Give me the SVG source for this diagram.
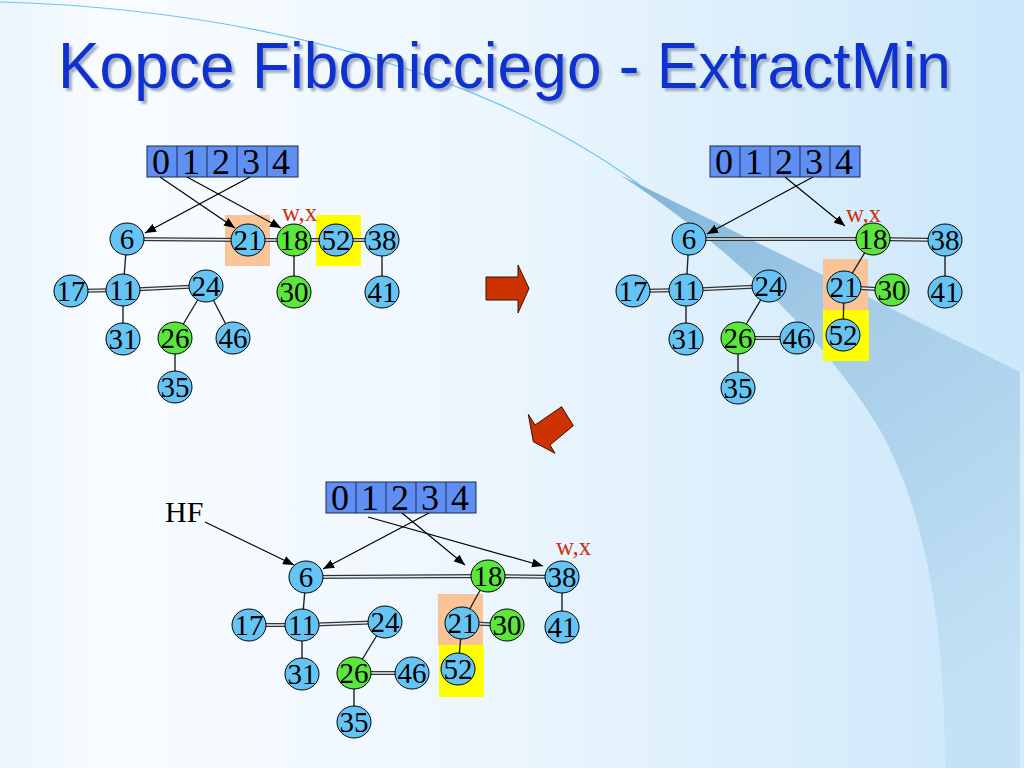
<svg xmlns="http://www.w3.org/2000/svg" width="1024" height="768" viewBox="0 0 1024 768">
<defs>
<linearGradient id="bg" x1="0" y1="0" x2="1" y2="0">
<stop offset="0" stop-color="#eaf5fd"/>
<stop offset="0.1" stop-color="#f8fcff"/>
<stop offset="0.45" stop-color="#eef7fe"/>
<stop offset="1" stop-color="#cbe7fa"/>
</linearGradient>
<linearGradient id="wedge" x1="620" y1="175" x2="980" y2="700" gradientUnits="userSpaceOnUse">
<stop offset="0" stop-color="#7fb3d6"/>
<stop offset="0.4" stop-color="#a6cde8"/>
<stop offset="1" stop-color="#c4e2f6"/>
</linearGradient>
<filter id="sh" x="-5%" y="-20%" width="110%" height="150%">
<feDropShadow dx="3" dy="3" stdDeviation="0.8" flood-color="#7f8fa8" flood-opacity="0.7"/>
</filter>
<marker id="ah" markerWidth="11" markerHeight="9" refX="11" refY="4.5" orient="auto" markerUnits="userSpaceOnUse">
<path d="M0,0 L11,4.5 L0,9 z" fill="#000"/>
</marker>
<style>
.b{fill:#66c4f4;stroke:#000;stroke-width:1}
.g{fill:#5ae63c;stroke:#000;stroke-width:1}
.t{font-family:"Liberation Serif","Times New Roman",serif;font-size:29px;text-anchor:middle;fill:#000}
.arr{fill:#5f8ff2;stroke:#1a2a55;stroke-width:1}
.cell{stroke:#1a2a55;stroke-width:1}
.d{font-family:"Liberation Serif","Times New Roman",serif;font-size:36px;text-anchor:middle;fill:#000}
.wx{font-family:"Liberation Serif","Times New Roman",serif;font-size:25px;fill:#cc3311}
.o{stroke:#333;stroke-width:4.2;fill:none}
.i{stroke:#e6eef6;stroke-width:1.4;fill:none}
.s{stroke:#222;stroke-width:1.4;fill:none}
.p{stroke:#000;stroke-width:1.2;fill:none;marker-end:url(#ah)}
.peach{fill:#fac398}
.yel{fill:#ffff00}
.red{fill:#cc3300;stroke:#3a1000;stroke-width:1}
</style>
</defs>

<!-- background -->
<rect x="0" y="0" width="1024" height="768" fill="url(#bg)"/>
<path d="M620,175 L1020,372 L1020,768 L945,768 C945,640 930,520 880,430 C820,330 720,240 620,175 Z" fill="url(#wedge)"/>
<rect x="1020" y="372" width="4" height="396" fill="#d4ebfa"/>
<path d="M0,2 C220,8 470,60 640,185" stroke="#6cc6ee" stroke-width="1.2" fill="none"/>

<!-- title -->
<text x="58" y="88" font-family="'Liberation Sans',Arial,sans-serif" font-size="64" fill="#1030d0" textLength="893" lengthAdjust="spacingAndGlyphs" filter="url(#sh)">Kopce Fibonicciego - ExtractMin</text>

<!-- highlight boxes -->
<rect class="peach" x="225" y="215" width="45" height="51"/>
<rect class="yel" x="316" y="215" width="45" height="51"/>
<rect class="peach" x="823" y="259" width="45" height="51"/>
<rect class="yel" x="823" y="310" width="46" height="51"/>
<rect class="peach" x="438" y="594" width="45" height="51"/>
<rect class="yel" x="439" y="645" width="45" height="52"/>

<!-- arrays -->
<g id="array1">
<rect class="arr" x="147" y="146" width="151" height="31"/>
<path class="cell" d="M177,146V177M207,146V177M237,146V177M267,146V177"/>
<text class="d" x="161" y="174">0</text><text class="d" x="191" y="174">1</text><text class="d" x="221" y="174">2</text><text class="d" x="251" y="174">3</text><text class="d" x="281" y="174">4</text>
</g>
<g id="array2">
<rect class="arr" x="710" y="146" width="150" height="31"/>
<path class="cell" d="M740,146V177M770,146V177M800,146V177M830,146V177"/>
<text class="d" x="724" y="174">0</text><text class="d" x="754" y="174">1</text><text class="d" x="784" y="174">2</text><text class="d" x="814" y="174">3</text><text class="d" x="844" y="174">4</text>
</g>
<g id="array3">
<rect class="arr" x="326" y="482" width="150" height="31"/>
<path class="cell" d="M356,482V513M386,482V513M416,482V513M446,482V513"/>
<text class="d" x="340" y="510">0</text><text class="d" x="370" y="510">1</text><text class="d" x="400" y="510">2</text><text class="d" x="430" y="510">3</text><text class="d" x="460" y="510">4</text>
</g>

<!-- labels -->
<text class="wx" x="282" y="221">w,x</text>
<text class="wx" x="846" y="222">w,x</text>
<text class="wx" x="556" y="555">w,x</text>
<text x="165" y="522" font-family="'Liberation Serif','Times New Roman',serif" font-size="30" fill="#000">HF</text>

<!-- connectors -->
<g id="connectors">
<path class="o" d="M127,239L248,240M248,240L294,240M294,240L336,240M336,240L382,240M71,291L123,290M123,290L206,286"/>
<path class="i" d="M127,239L248,240M248,240L294,240M294,240L336,240M336,240L382,240M71,291L123,290M123,290L206,286"/>
<path class="s" d="M127,239L123,290M123,290L123,339M206,286L175,338M206,286L233,338M175,338L175,387M294,240L294,292M382,240L382,292"/>
<path class="o" d="M689,239L873,239M873,239L945,240M633,291L686,290M686,290L769,286M738,338L797,338M844,287L892,290"/>
<path class="i" d="M689,239L873,239M873,239L945,240M633,291L686,290M686,290L769,286M738,338L797,338M844,287L892,290"/>
<path class="s" d="M689,239L686,290M686,290L686,339M769,286L738,338M738,338L738,388M873,239L844,287M844,287L843,335M945,240L945,292"/>
<path class="o" d="M306,577L488,576M488,576L562,577M249,625L302,625M302,625L385,622M354,673L412,673M462,623L507,625"/>
<path class="i" d="M306,577L488,576M488,576L562,577M249,625L302,625M302,625L385,622M354,673L412,673M462,623L507,625"/>
<path class="s" d="M306,577L302,625M302,625L302,674M385,622L354,673M354,673L354,722M488,576L462,623M462,623L458,669M562,577L562,627"/>
<path class="p" d="M160,177L235,228"/>
<path class="p" d="M187,177L281,228"/>
<path class="p" d="M250,177L145,233"/>
<path class="p" d="M813,177L707,234"/>
<path class="p" d="M785,177L845,226"/>
<path class="p" d="M205,522L294,565"/>
<path class="p" d="M429,513L323,569"/>
<path class="p" d="M402,513L465,565"/>
<path class="p" d="M368,517L543,566"/>
</g>

<!-- diagram 1 nodes -->
<g id="d1-6"><ellipse class="b" cx="127" cy="239" rx="17" ry="16"/><text class="t" x="127" y="249">6</text></g>
<g id="d1-21"><ellipse class="b" cx="248" cy="240" rx="17" ry="16"/><text class="t" x="248" y="250">21</text></g>
<g id="d1-18"><ellipse class="g" cx="294" cy="240" rx="17" ry="16"/><text class="t" x="294" y="250">18</text></g>
<g id="d1-52"><ellipse class="b" cx="336" cy="240" rx="17" ry="16"/><text class="t" x="336" y="250">52</text></g>
<g id="d1-38"><ellipse class="b" cx="382" cy="240" rx="17" ry="16"/><text class="t" x="382" y="250">38</text></g>
<g id="d1-17"><ellipse class="b" cx="71" cy="291" rx="17" ry="16"/><text class="t" x="71" y="301">17</text></g>
<g id="d1-11"><ellipse class="b" cx="123" cy="290" rx="17" ry="16"/><text class="t" x="123" y="300">11</text></g>
<g id="d1-24"><ellipse class="b" cx="206" cy="286" rx="17" ry="16"/><text class="t" x="206" y="296">24</text></g>
<g id="d1-30"><ellipse class="g" cx="294" cy="292" rx="17" ry="16"/><text class="t" x="294" y="302">30</text></g>
<g id="d1-41"><ellipse class="b" cx="382" cy="292" rx="17" ry="16"/><text class="t" x="382" y="302">41</text></g>
<g id="d1-31"><ellipse class="b" cx="123" cy="339" rx="17" ry="16"/><text class="t" x="123" y="349">31</text></g>
<g id="d1-26"><ellipse class="g" cx="175" cy="338" rx="17" ry="16"/><text class="t" x="175" y="348">26</text></g>
<g id="d1-46"><ellipse class="b" cx="233" cy="338" rx="17" ry="16"/><text class="t" x="233" y="348">46</text></g>
<g id="d1-35"><ellipse class="b" cx="175" cy="387" rx="17" ry="16"/><text class="t" x="175" y="397">35</text></g>

<!-- diagram 2 nodes -->
<g id="d2-6"><ellipse class="b" cx="689" cy="239" rx="17" ry="16"/><text class="t" x="689" y="249">6</text></g>
<g id="d2-18"><ellipse class="g" cx="873" cy="239" rx="17" ry="16"/><text class="t" x="873" y="249">18</text></g>
<g id="d2-38"><ellipse class="b" cx="945" cy="240" rx="17" ry="16"/><text class="t" x="945" y="250">38</text></g>
<g id="d2-17"><ellipse class="b" cx="633" cy="291" rx="17" ry="16"/><text class="t" x="633" y="301">17</text></g>
<g id="d2-11"><ellipse class="b" cx="686" cy="290" rx="17" ry="16"/><text class="t" x="686" y="300">11</text></g>
<g id="d2-24"><ellipse class="b" cx="769" cy="286" rx="17" ry="16"/><text class="t" x="769" y="296">24</text></g>
<g id="d2-21"><ellipse class="b" cx="844" cy="287" rx="17" ry="16"/><text class="t" x="844" y="297">21</text></g>
<g id="d2-30"><ellipse class="g" cx="892" cy="290" rx="17" ry="16"/><text class="t" x="892" y="300">30</text></g>
<g id="d2-41"><ellipse class="b" cx="945" cy="292" rx="17" ry="16"/><text class="t" x="945" y="302">41</text></g>
<g id="d2-31"><ellipse class="b" cx="686" cy="339" rx="17" ry="16"/><text class="t" x="686" y="349">31</text></g>
<g id="d2-26"><ellipse class="g" cx="738" cy="338" rx="17" ry="16"/><text class="t" x="738" y="348">26</text></g>
<g id="d2-46"><ellipse class="b" cx="797" cy="338" rx="17" ry="16"/><text class="t" x="797" y="348">46</text></g>
<g id="d2-52"><ellipse class="b" cx="843" cy="335" rx="17" ry="16"/><text class="t" x="843" y="345">52</text></g>
<g id="d2-35"><ellipse class="b" cx="738" cy="388" rx="17" ry="16"/><text class="t" x="738" y="398">35</text></g>

<!-- diagram 3 nodes -->
<g id="d3-6"><ellipse class="b" cx="306" cy="577" rx="17" ry="16"/><text class="t" x="306" y="587">6</text></g>
<g id="d3-18"><ellipse class="g" cx="488" cy="576" rx="17" ry="16"/><text class="t" x="488" y="586">18</text></g>
<g id="d3-38"><ellipse class="b" cx="562" cy="577" rx="17" ry="16"/><text class="t" x="562" y="587">38</text></g>
<g id="d3-17"><ellipse class="b" cx="249" cy="625" rx="17" ry="16"/><text class="t" x="249" y="635">17</text></g>
<g id="d3-11"><ellipse class="b" cx="302" cy="625" rx="17" ry="16"/><text class="t" x="302" y="635">11</text></g>
<g id="d3-24"><ellipse class="b" cx="385" cy="622" rx="17" ry="16"/><text class="t" x="385" y="632">24</text></g>
<g id="d3-21"><ellipse class="b" cx="462" cy="623" rx="17" ry="16"/><text class="t" x="462" y="633">21</text></g>
<g id="d3-30"><ellipse class="g" cx="507" cy="625" rx="17" ry="16"/><text class="t" x="507" y="635">30</text></g>
<g id="d3-41"><ellipse class="b" cx="562" cy="627" rx="17" ry="16"/><text class="t" x="562" y="637">41</text></g>
<g id="d3-31"><ellipse class="b" cx="302" cy="674" rx="17" ry="16"/><text class="t" x="302" y="684">31</text></g>
<g id="d3-26"><ellipse class="g" cx="354" cy="673" rx="17" ry="16"/><text class="t" x="354" y="683">26</text></g>
<g id="d3-46"><ellipse class="b" cx="412" cy="673" rx="17" ry="16"/><text class="t" x="412" y="683">46</text></g>
<g id="d3-52"><ellipse class="b" cx="458" cy="669" rx="17" ry="16"/><text class="t" x="458" y="679">52</text></g>
<g id="d3-35"><ellipse class="b" cx="354" cy="722" rx="17" ry="16"/><text class="t" x="354" y="732">35</text></g>

<!-- block arrows -->
<polygon class="red" points="486,277 518,277 518,265 529,288.5 518,313 518,300 486,300"/>
<polygon class="red" points="528.3,414.3 535,425 561.7,406.7 573.3,425.7 550,445 555,453.3 533.3,441.7"/>
</svg>
